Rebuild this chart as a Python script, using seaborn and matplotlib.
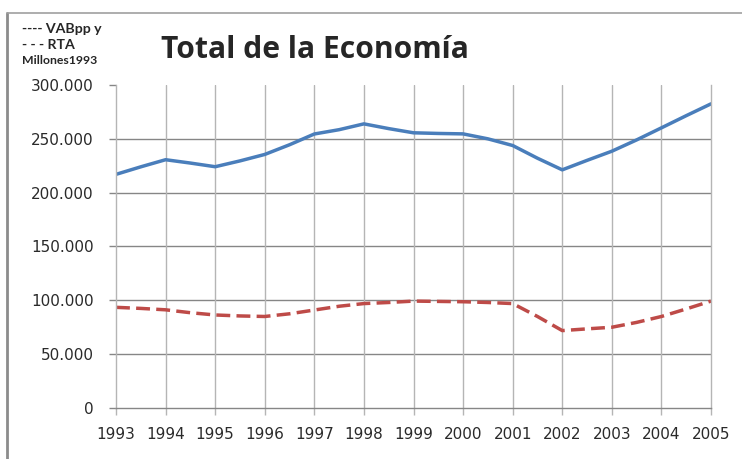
import numpy as np
import pandas as pd
import matplotlib
matplotlib.use("Agg")
import matplotlib.pyplot as plt
from matplotlib.ticker import FuncFormatter
from matplotlib.lines import Line2D
import seaborn as sns

# half-year points (millones 1993)
years = [1993.0, 1993.5, 1994.0, 1994.5, 1995.0, 1995.5, 1996.0, 1996.5, 1997.0,
         1997.5, 1998.0, 1998.5, 1999.0, 1999.5, 2000.0, 2000.5, 2001.0, 2001.5,
         2002.0, 2002.5, 2003.0, 2003.5, 2004.0, 2004.5, 2005.0]
vabpp = [217000, 224000, 230600, 227500, 224100, 229500, 235500, 244500, 254500,
         258500, 263900, 259500, 255600, 255000, 254600, 250000, 243800, 232000,
         221200, 230000, 238500, 249000, 260200, 271500, 282500]
rta = [93500, 92500, 91200, 88500, 86400, 85500, 85000, 87500, 91000,
       94500, 97000, 98000, 99300, 99000, 98700, 98000, 97000, 85000,
       71900, 73500, 75000, 79500, 85000, 92000, 99300]
year_ticks = list(range(1993, 2006))
y_ticks = [0, 50000, 100000, 150000, 200000, 250000, 300000]

df = pd.DataFrame({'year': years, 'VABpp': vabpp, 'RTA': rta})

sns.set_theme(style='white')
plt.rcParams['font.family'] = ['DejaVu Sans']

fig = plt.figure(figsize=(7.42, 4.59), dpi=100)
ax = fig.add_axes([116 / 742, 1 - 408 / 459, 595 / 742, 323 / 459])

sns.lineplot(data=df, x='year', y='VABpp', ax=ax, color='#4a7ebb', linewidth=2.5)
sns.lineplot(data=df, x='year', y='RTA', ax=ax, color='#be4b48', linewidth=2.5,
             dashes=False)
ax.lines[1].set_dashes((4, 1.8))
ax.lines[1].set_dash_capstyle('butt')

ax.set_xlim(1993, 2005)
ax.set_ylim(0, 300000)
ax.set_xticks(year_ticks)
ax.set_yticks(y_ticks)
ax.yaxis.set_major_formatter(FuncFormatter(lambda v, p: f"{int(v):,}".replace(",", ".")))
ax.set_xlabel('')
ax.set_ylabel('')

# gridlines: horizontal darker, vertical lighter, none at 300.000
for yv in y_ticks[1:-1]:
    ax.axhline(yv, color='#868686', linewidth=1.0, zorder=0.5)
for xv in year_ticks[1:-1]:
    ax.axvline(xv, color='#b5b5b5', linewidth=1.0, zorder=0.5)

ax.spines['top'].set_visible(False)
ax.spines['left'].set_color('#b5b5b5')
ax.spines['right'].set_color('#b5b5b5')
ax.spines['bottom'].set_color('#868686')
for s in ax.spines.values():
    s.set_linewidth(1.0)

ax.tick_params(axis='y', length=5, width=1, color='#868686', pad=11,
               labelsize=11, labelcolor='#2a2a2a', left=True)
ax.tick_params(axis='x', length=5, width=1, color='#b5b5b5', pad=9,
               labelsize=11, labelcolor='#2a2a2a', bottom=True)

# title and small legend text
fig.text(161 / 742, 1 - 58 / 459, 'Total de la Economía', fontsize=21.6,
         fontweight='bold', family='Open Sans', ha='left', va='baseline')
fig.text(22 / 742, 1 - 29 / 459, '---- VABpp y', fontsize=10.2, fontweight='bold',
         family='Lato', ha='left', va='center')
fig.text(22 / 742, 1 - 45 / 459, '- - - RTA', fontsize=10.2, fontweight='bold',
         family='Lato', ha='left', va='center')
fig.text(22 / 742, 1 - 61 / 459, 'Millones1993', fontsize=8.8, fontweight='bold',
         family='Lato', ha='left', va='center')

# outer chart frame
fig.add_artist(Line2D([7 / 742, 7 / 742], [0, 1 - 13 / 459], transform=fig.transFigure,
                      color='#8c8c8c', linewidth=2))
fig.add_artist(Line2D([7 / 742, 1], [1 - 13 / 459, 1 - 13 / 459], transform=fig.transFigure,
                      color='#a0a0a0', linewidth=1.2))

fig.savefig('out.png', dpi=100)
